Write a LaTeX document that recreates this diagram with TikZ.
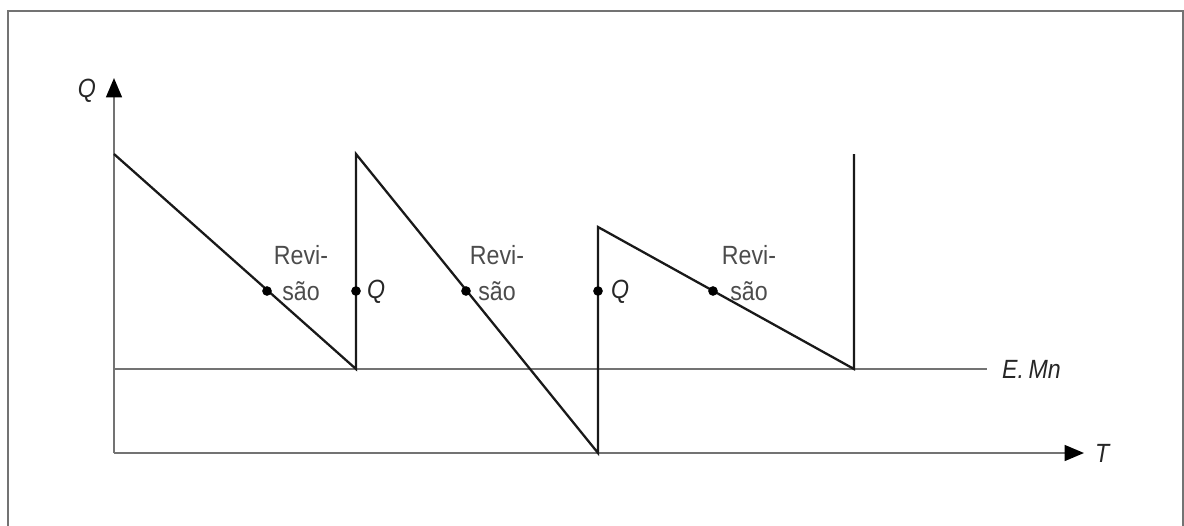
\documentclass[tikz,border=0pt]{standalone}
\usepackage{fontspec}
\setmainfont{Liberation Sans}[FakeStretch=0.88]
\usetikzlibrary{arrows.meta}
\tikzset{
  axis/.style={draw=black!55, line width=1.1pt},
  tip/.style={-{Triangle[length=11pt, width=9pt, color=black]}},
  curve/.style={draw=black!90, line width=1.3pt, line join=miter},
  dot/.style={circle, fill=black, inner sep=0pt, minimum size=5.5pt},
  lbl/.style={font=\fontsize{15}{20.5}\selectfont, text=black!70},
  sym/.style={font=\fontsize{15}{17}\selectfont\itshape, text=black!85}
}
\begin{document}
\begin{tikzpicture}[x=0.02cm, y=-0.02cm]
  \useasboundingbox (0,0) rectangle (1184,525);
  % frame
  \draw[black!55, line width=1.1pt] (8,530) -- (8,11) -- (1183,11) -- (1183,530);
  % axes
  \coordinate (o) at (114,453);
  \coordinate (qtop) at (114,78);
  \coordinate (tend) at (1084,453);
  \draw[axis, tip] (o) -- (qtop);
  \draw[axis, tip] (o) -- (tend);
  \node[sym, left] (qlab) at (102,91) {Q};
  \node[sym, right] (tlab) at (1089,453) {T};
  % minimum stock
  \coordinate (emn0) at (114,369);
  \coordinate (emn1) at (987,369);
  \draw[axis, line width=0.9pt] (emn0) -- (emn1);
  \node[sym, right] (emn) at (996,369) {E.\,Mn};
  % stock level
  \coordinate (p0) at (114,154);
  \coordinate (p1) at (356,369);
  \coordinate (p2) at (356,154);
  \coordinate (p3) at (598,453);
  \coordinate (p4) at (598,227);
  \coordinate (p5) at (854,369);
  \coordinate (p6) at (854,154);
  \draw[curve] (p0) -- (p1) -- (p2) -- (p3) -- (p4) -- (p5) -- (p6);
  % review points
  \node[dot] (r1) at (267,291) {};
  \node[dot] (r2) at (466,291) {};
  \node[dot] (r3) at (713,291) {};
  \node[dot] (q1) at (356,291) {};
  \node[dot] (q2) at (598,291) {};
  \node[lbl, align=center] (t1) at (301,273) {Revi-\\são};
  \node[lbl, align=center] (t2) at (497,273) {Revi-\\são};
  \node[lbl, align=center] (t3) at (749,273) {Revi-\\são};
  \node[sym, right] (ql1) at (361,292) {Q};
  \node[sym, right] (ql2) at (605,292) {Q};
\end{tikzpicture}
\end{document}
